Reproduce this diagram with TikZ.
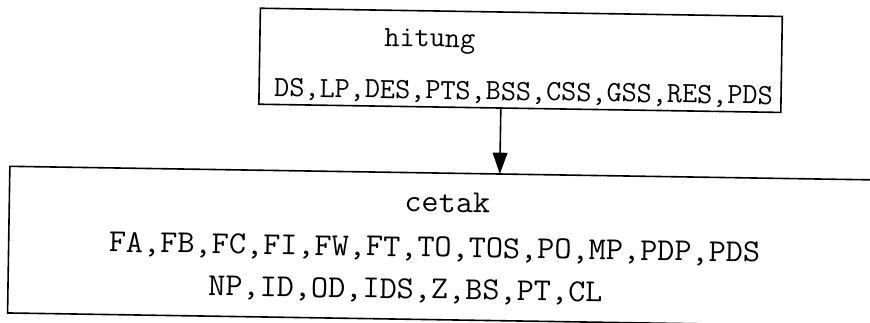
\documentclass[tikz,border=0pt]{standalone}
\usetikzlibrary{arrows.meta,calc}
\begin{document}
\begin{tikzpicture}[x=0.75pt,y=-0.75pt,
  boxnode/.style={draw=black, line width=1.2pt, inner sep=0pt, outer sep=0pt, anchor=north west},
  openbox/.style={inner sep=0pt, outer sep=0pt, anchor=north west},
  edge/.style={line width=1.2pt, line join=miter},
  biglabel/.style={font=\ttfamily\fontsize{24pt}{26pt}\selectfont, inner sep=0pt, xscale=1.04},
  smalllabel/.style={font=\ttfamily\fontsize{22pt}{24pt}\selectfont, inner sep=0pt},
  flow/.style={line width=1.2pt, -{Triangle[width=11pt,length=16pt]}}]
\useasboundingbox (0,0) rectangle (870,323);
\fill[white] (0,0) rectangle (870,323);
\begin{scope}[rotate around={-0.9:(435,161)}, transform shape]
  \node[boxnode, minimum width=391.5pt, minimum height=72pt] (hitung) at (258,11) {};
  \node[openbox, minimum width=660pt, minimum height=110pt] (cetak) at (10,173) {};
  \draw[edge] (cetak.north east) -- (cetak.north west) -- (cetak.south west)
              -- ($(cetak.south west)!0.94!(cetak.south east)$);
  \node[smalllabel, anchor=base] (t1) at (428,47) {hitung};
  \node[smalllabel, anchor=base east] (t2) at (772,99) {DS,LP,DES,PTS,BSS,CSS,GSS,RES,PDS};
  \node[biglabel, anchor=base] (t3) at (448,212) {cetak};
  \node[biglabel, anchor=base west] (t4) at (110,257) {FA,FB,FC,FI,FW,FT,TO,TOS,PO,MP,PDP,PDS};
  \node[biglabel, anchor=base west] (t5) at (210,299) {NP,ID,OD,IDS,Z,BS,PT,CL};
  \coordinate (ax) at (500,0);
  \draw[flow] (hitung.south -| ax) -- (cetak.north -| ax);
\end{scope}
\end{tikzpicture}
\end{document}
